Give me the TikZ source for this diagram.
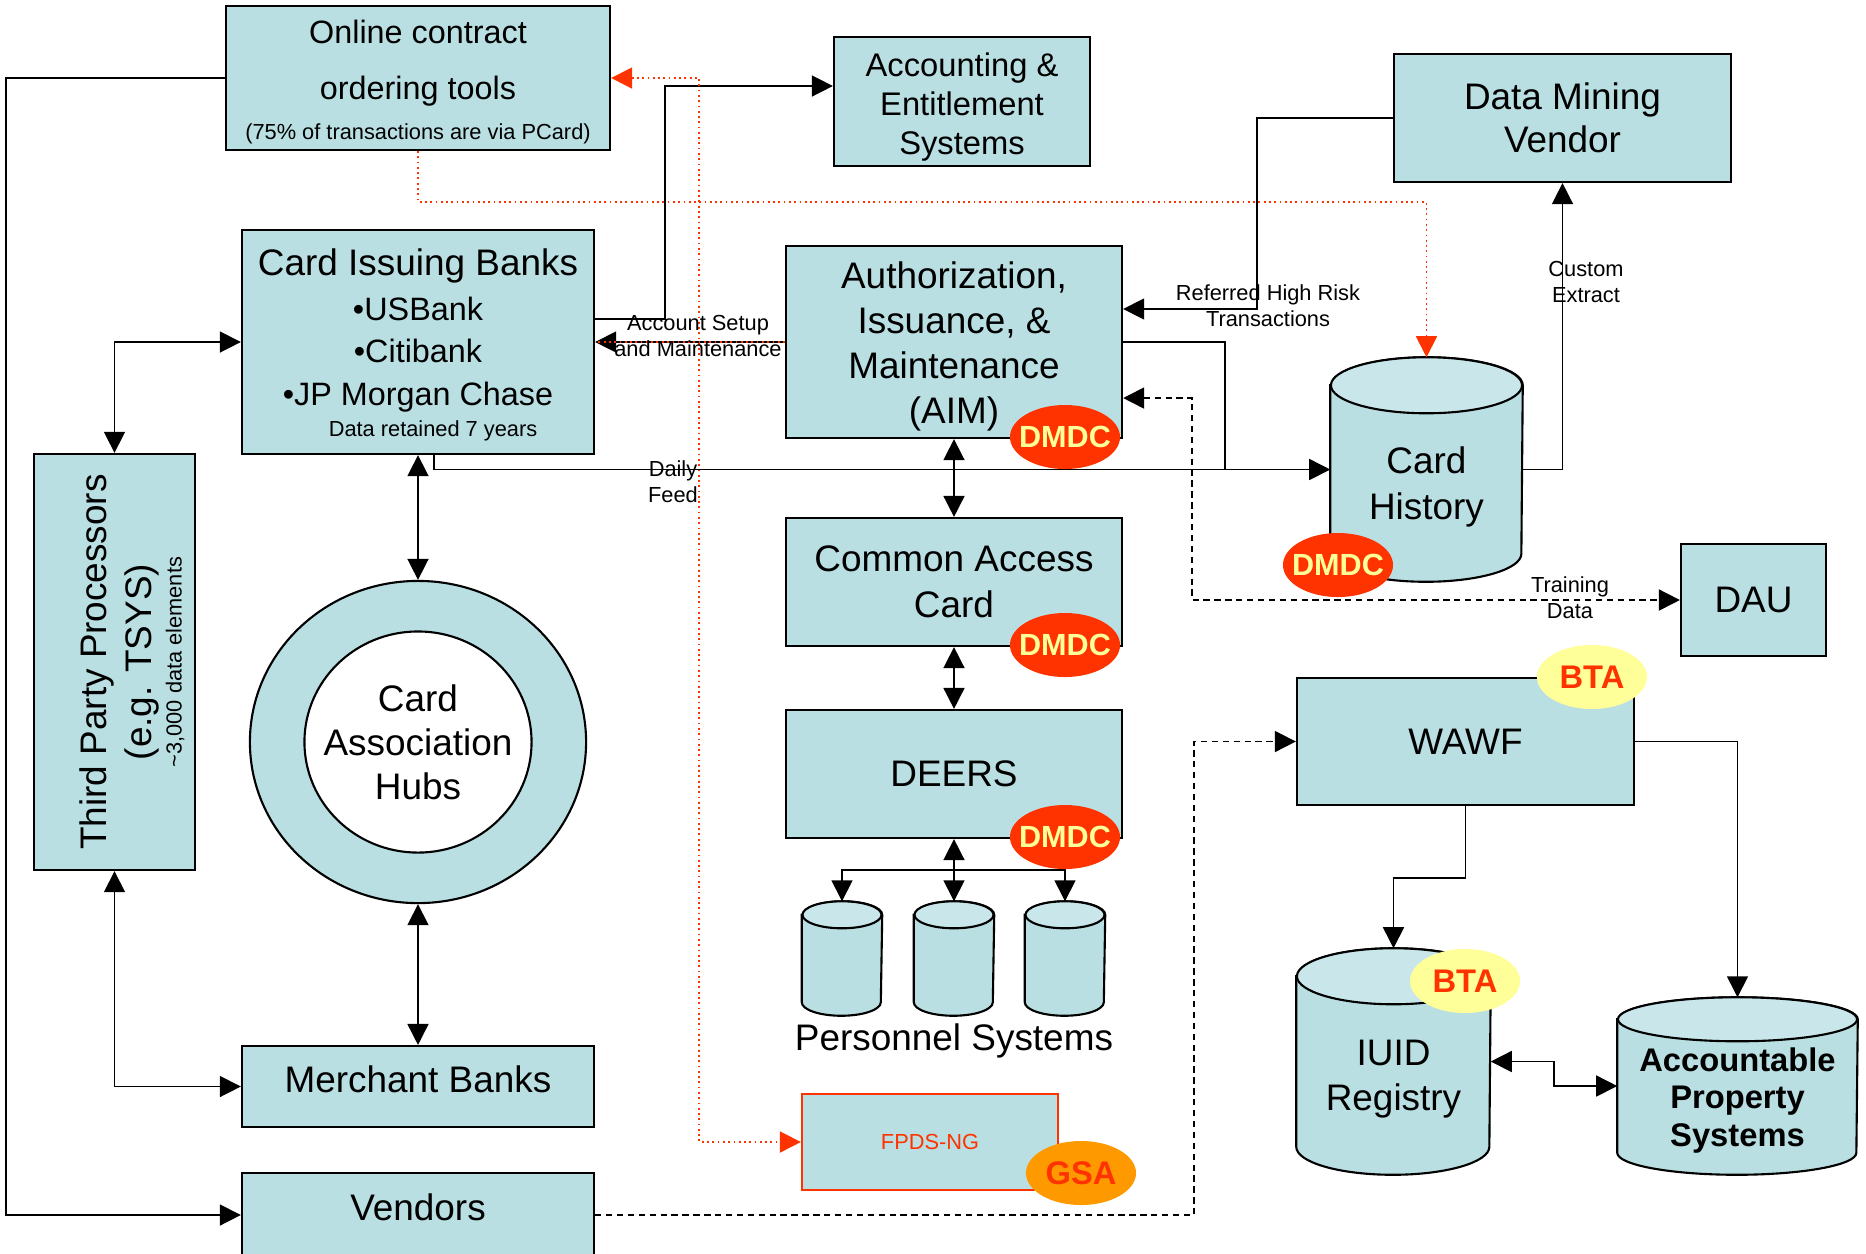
\documentclass[tikz,border=0pt]{standalone}
\usepackage{fontspec}
\setmainfont{Liberation Sans}
\usetikzlibrary{arrows.meta,positioning,shapes.geometric}
\definecolor{boxcol}{HTML}{B9DFE2}
\definecolor{topcol}{HTML}{C9E7EB}
\definecolor{dmdcred}{HTML}{FF3300}
\definecolor{tagyellow}{HTML}{FFFF99}
\definecolor{gsaorange}{HTML}{FF9900}
\newcommand{\bigfont}{\fontsize{10.5}{12.8}\selectfont}
\tikzset{
  box/.style={rectangle,draw=black,line width=0.6pt,fill=boxcol,inner sep=0pt,align=center,font=\bigfont},
  conn/.style={line width=0.45pt},
  dashconn/.style={line width=0.5pt,dash pattern=on 1.8pt off 1.3pt},
  redconn/.style={line width=0.5pt,draw=dmdcred,densely dotted},
  lbl/.style={inner sep=0pt,align=center,font=\fontsize{6.2}{7.4}\selectfont},
  tag/.style={ellipse,inner ysep=0pt,inner xsep=-0.1cm,minimum width=1.1cm,minimum height=0.64cm,font=\bfseries\fontsize{8.7}{10}\selectfont},
  dmdc/.style={tag,fill=dmdcred,text=tagyellow},
  bta/.style={tag,fill=tagyellow,text=dmdcred,font=\bfseries\fontsize{9.3}{10}\selectfont},
  gsa/.style={tag,fill=gsaorange,text=dmdcred,font=\bfseries\fontsize{9.3}{10}\selectfont},
}
% cylinder: name, position, width, height, end radius, font, text
\newcommand{\drum}[7]{%
  \node[inner sep=0pt,minimum width=#3,minimum height=#4] (#1) at (#2) {};
  \draw[line width=0.6pt,fill=boxcol] ([yshift=-#5]#1.north west) -- ([yshift=#5]#1.south west)
    arc[start angle=180,end angle=360,x radius=0.5*#3,y radius=#5]
    -- ([yshift=-#5]#1.north east)
    arc[start angle=0,end angle=180,x radius=0.5*#3,y radius=#5] -- cycle;
  \draw[line width=0.6pt,fill=topcol] ([yshift=-#5]#1.north) ellipse[x radius=0.5*#3,y radius=#5];
  \node (#1txt) [align=center,font=#6] at ([yshift=-0.5*#5-0.035cm]#1.center) {#7};
}
\begin{document}
\begin{tikzpicture}[x=0.01cm,y=-0.01cm,>={Triangle[length=2.1mm,width=2.1mm]}]
\useasboundingbox (0,0) rectangle (1866,1253);
% boxes
\node (online) [box,minimum width=3.84cm,minimum height=1.44cm,font=\fontsize{9.2}{16}\selectfont] at (418,78)
  {\rule{0pt}{8.7pt}Online contract\\ordering tools\\[-4.7pt]{\fontsize{6.2}{7}\selectfont (75\% of transactions are via PCard)}};
\node (acct) [box,minimum width=2.56cm,minimum height=1.29cm,font=\fontsize{9.3}{11}\selectfont] at (962,101.5)
  {\rule{0pt}{9.8pt}Accounting \&\\Entitlement\\Systems};
\node (dmv) [box,minimum width=3.37cm,minimum height=1.28cm,font=\fontsize{10.5}{12.2}\selectfont] at (1562.5,118) {Data Mining\\Vendor};
\node (cib) [box,minimum width=3.52cm,minimum height=2.24cm,font=\fontsize{9.2}{12.2}\selectfont] at (418,342)
  {{\fontsize{10.5}{12}\selectfont\rule{0pt}{9.3pt}Card Issuing Banks}\\[0.5pt]•USBank\\•Citibank\\•JP Morgan Chase\\[-3.4pt]\hspace*{0.3cm}{\fontsize{6.2}{7}\selectfont Data retained 7 years}};
\node (aim) [box,minimum width=3.36cm,minimum height=1.92cm] at (954,342) {\rule{0pt}{10.1pt}Authorization,\\Issuance, \&\\Maintenance\\(AIM)};
\node (cac) [box,minimum width=3.36cm,minimum height=1.28cm,font=\fontsize{10.5}{13}\selectfont] at (954,582) {Common Access\\Card};
\node (deers) [box,minimum width=3.36cm,minimum height=1.28cm] at (954,774) {DEERS};
\node (dau) [box,minimum width=1.45cm,minimum height=1.12cm] at (1753.5,600) {DAU};
\node (wawf) [box,minimum width=3.37cm,minimum height=1.27cm] at (1465.5,741.5) {WAWF};
\node (tpp) [box,minimum width=1.61cm,minimum height=4.16cm] at (114.5,662) {};
\node (tpptxt) [rotate=90,align=center,font=\fontsize{10.5}{12.8}\selectfont] at (132,662)
  {Third Party Processors\\(e.g. TSYS)\\[-4.2pt]{\fontsize{6.2}{7}\selectfont \textasciitilde3,000 data elements}};
\node (hubs) [ellipse,draw=black,line width=0.6pt,fill=boxcol,minimum width=3.36cm,minimum height=3.22cm,inner sep=0pt] at (418,742) {};
\node (hubsin) [ellipse,draw=black,line width=0.6pt,fill=white,minimum width=2.27cm,minimum height=2.21cm,inner sep=0pt] at (hubs.center) {};
\node (hubstxt) [align=center,font=\fontsize{10.5}{12.5}\selectfont] at (hubs.center) {Card\\Association\\Hubs};
\node (merch) [box,minimum width=3.52cm,minimum height=0.81cm,text depth=0.14cm] at (418,1086.5) {Merchant Banks};
\node (vend) [box,minimum width=3.52cm,minimum height=0.84cm,text depth=0.15cm] at (418,1215) {Vendors};
\node (fpds) [box,draw=dmdcred,minimum width=2.56cm,minimum height=0.96cm,text=dmdcred,font=\fontsize{6.2}{7}\selectfont] at (930,1142) {FPDS-NG};
% cylinders
\drum{hist}{1426.5,469.5}{1.91cm}{2.23cm}{0.28cm}{\fontsize{10.5}{13}\selectfont}{Card\\History}
\drum{iuid}{1393.5,1061.5}{1.93cm}{2.25cm}{0.28cm}{\fontsize{10.5}{13}\selectfont}{IUID\\Registry}
\drum{aps}{1737.5,1086}{2.39cm}{1.76cm}{0.22cm}{\bfseries\fontsize{9.3}{10.7}\selectfont}{Accountable\\Property\\Systems}
\drum{pers1}{842,958.5}{0.79cm}{1.13cm}{0.135cm}{\bigfont}{}
\drum{pers2}{954,958.5}{0.79cm}{1.13cm}{0.135cm}{\bigfont}{}
\drum{pers3}{1065,958.5}{0.79cm}{1.13cm}{0.135cm}{\bigfont}{}
\node (perslbl) [font=\bigfont] at (954,1041) {Personnel Systems};
% connectors
\draw[conn,->] (online.west) -- ++(-219,0) |- (vend.west);
\draw[conn,<->] (tpp.north) |- (cib.west);
\draw[conn,<->] (tpp.south) |- (merch.west);
\draw[conn,<->] (cib.south) -- (hubs.north);
\draw[conn,<->] (hubs.south) -- (merch.north);
\draw[conn,->] ([yshift=0.23cm]cib.east) -- ++(70,0) |- ([yshift=0.155cm]acct.west);
\draw[conn,->] (aim.west) -- (cib.east);
\draw[redconn] (aim.west) -- (cib.east);
\draw[conn,->] ([xshift=0.16cm]cib.south) |- (hist.west);
\draw[conn] (aim.east) -| ([xshift=-1.05cm]hist.west);
\draw[conn,->] (dmv.west) -- ++(-136,0) |- ([yshift=0.33cm]aim.east);
\draw[conn,->] (hist.east) -| (dmv.south);
\draw[dashconn,<->] ([yshift=-0.56cm]aim.east) -- ++(69,0) |- (dau.west);
\draw[conn,<->] (aim.south) -- (cac.north);
\draw[conn,<->] (cac.south) -- (deers.north);
\coordinate (split) at (954,870);
\draw[conn,<->] (deers.south) -- (pers2.north);
\draw[conn,->] (split) -| (pers1.north);
\draw[conn,->] (split) -| (pers3.north);
\draw[redconn,->] (online.south) -- ++(0,51) -| (hist.north);
\draw[redconn,<->] (online.east) -- ++(88,0) |- (fpds.west);
\draw[dashconn,->] (vend.east) -- ++(599,0) |- (wawf.west);
\draw[conn,->] (wawf.south) -- ++(0,72) -| (iuid.north);
\draw[conn,->] (wawf.east) -| (aps.north);
\draw[conn,<->] (iuid.east) -- ++(63,0) |- (aps.west);
% connector labels
\node (setuplbl) [lbl] at (698,336) {Account Setup\\and Maintenance};
\node (feedlbl) [lbl] at (673,482) {Daily\\Feed};
\node (risklbl) [lbl] at (1268,306) {Referred High Risk\\Transactions};
\node (extractlbl) [lbl] at (1586,282) {Custom\\Extract};
\node (trainlbl) [lbl] at (1570,598) {Training\\Data};
% owner tags
\node (dmdc1) [dmdc] at (1065,437) {DMDC};
\node (dmdc2) [dmdc] at (1338,565) {DMDC};
\node (dmdc3) [dmdc] at (1065,645) {DMDC};
\node (dmdc4) [dmdc] at (1065,837) {DMDC};
\node (bta1) [bta] at (1592,677) {BTA};
\node (bta2) [bta] at (1465,981) {BTA};
\node (gsa1) [gsa] at (1081,1173) {GSA};
\end{tikzpicture}
\end{document}
